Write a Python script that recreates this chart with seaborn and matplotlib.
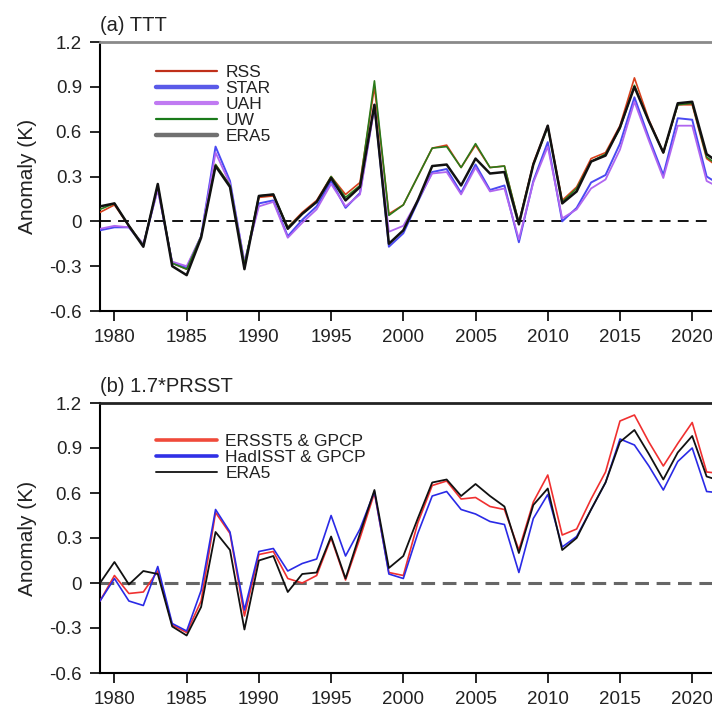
import numpy as np
import pandas as pd
import matplotlib
matplotlib.use("Agg")
import matplotlib.pyplot as plt
import seaborn as sns

years = list(range(1979, 2023))

# Panel (a) TTT
rss_a = [0.06, 0.11, -0.03, -0.16, 0.23, -0.28, -0.32, -0.10, 0.38, 0.24, -0.29, 0.16, 0.17, -0.04, 0.06,
         0.14, 0.30, 0.18, 0.26, 0.90, 0.05, 0.11, 0.30, 0.49, 0.51, 0.36, 0.51, 0.36, 0.37, -0.01,
         0.39, 0.64, 0.14, 0.23, 0.42, 0.46, 0.64, 0.96, 0.68, 0.46, 0.78, 0.78, 0.42, 0.35]
star_a = [-0.06, -0.04, -0.04, -0.16, 0.22, -0.28, -0.31, -0.10, 0.50, 0.27, -0.28, 0.12, 0.14, -0.10, 0.01,
          0.10, 0.27, 0.09, 0.19, 0.78, -0.17, -0.08, 0.13, 0.33, 0.35, 0.19, 0.38, 0.21, 0.24, -0.14,
          0.27, 0.53, 0.00, 0.09, 0.26, 0.31, 0.52, 0.83, 0.56, 0.31, 0.69, 0.68, 0.30, 0.24]
uah_a = [-0.05, -0.03, -0.04, -0.15, 0.21, -0.27, -0.30, -0.10, 0.46, 0.25, -0.27, 0.10, 0.13, -0.11, -0.01,
         0.08, 0.25, 0.10, 0.18, 0.76, -0.07, -0.03, 0.14, 0.32, 0.33, 0.18, 0.36, 0.20, 0.22, -0.12,
         0.26, 0.50, 0.02, 0.08, 0.22, 0.28, 0.48, 0.80, 0.54, 0.29, 0.64, 0.64, 0.27, 0.22]
uw_a = [0.08, 0.12, -0.03, -0.16, 0.24, -0.28, -0.32, -0.10, 0.38, 0.24, -0.29, 0.17, 0.18, -0.04, 0.05,
        0.13, 0.30, 0.16, 0.24, 0.94, 0.04, 0.11, 0.30, 0.49, 0.50, 0.36, 0.52, 0.36, 0.37, -0.01,
        0.38, 0.63, 0.13, 0.22, 0.40, 0.45, 0.62, 0.91, 0.67, 0.46, 0.78, 0.79, 0.43, 0.36]
era5_a = [0.10, 0.12, -0.03, -0.17, 0.25, -0.30, -0.36, -0.11, 0.37, 0.23, -0.32, 0.17, 0.18, -0.05, 0.05,
          0.13, 0.29, 0.14, 0.23, 0.78, -0.15, -0.06, 0.14, 0.37, 0.38, 0.24, 0.42, 0.32, 0.33, -0.02,
          0.38, 0.64, 0.12, 0.20, 0.40, 0.44, 0.63, 0.90, 0.67, 0.46, 0.79, 0.80, 0.45, 0.38]

# Panel (b) 1.7*PRSST
ersst_b = [-0.12, 0.05, -0.07, -0.06, 0.08, -0.28, -0.33, -0.12, 0.47, 0.33, -0.22, 0.19, 0.21, 0.03, 0.00,
           0.05, 0.30, 0.02, 0.30, 0.60, 0.07, 0.05, 0.40, 0.65, 0.68, 0.56, 0.57, 0.51, 0.49, 0.22,
           0.54, 0.72, 0.32, 0.36, 0.56, 0.74, 1.08, 1.12, 0.94, 0.78, 0.93, 1.07, 0.74, 0.73]
hadisst_b = [-0.12, 0.03, -0.12, -0.15, 0.11, -0.27, -0.32, -0.05, 0.49, 0.34, -0.18, 0.21, 0.23, 0.08, 0.13,
             0.16, 0.45, 0.18, 0.36, 0.61, 0.06, 0.03, 0.33, 0.58, 0.61, 0.49, 0.46, 0.41, 0.39, 0.07,
             0.43, 0.59, 0.24, 0.31, 0.49, 0.67, 0.96, 0.92, 0.78, 0.62, 0.81, 0.90, 0.61, 0.60]
era5_b = [0.00, 0.14, -0.01, 0.08, 0.06, -0.29, -0.35, -0.16, 0.34, 0.22, -0.31, 0.15, 0.18, -0.06, 0.06,
          0.07, 0.31, 0.03, 0.33, 0.62, 0.10, 0.18, 0.43, 0.67, 0.69, 0.58, 0.66, 0.58, 0.51, 0.20,
          0.52, 0.63, 0.22, 0.30, 0.49, 0.67, 0.94, 1.02, 0.86, 0.69, 0.87, 0.98, 0.71, 0.68]

titles = ["(a) TTT", "(b) 1.7*PRSST"]
yticks = [-0.6, -0.3, 0, 0.3, 0.6, 0.9, 1.2]
ytick_labels = ["-0.6", "-0.3", "0", "0.3", "0.6", "0.9", "1.2"]
xticks = [1980, 1985, 1990, 1995, 2000, 2005, 2010, 2015, 2020]

sns.set_style("ticks")
plt.rcParams['font.family'] = ['Liberation Sans', 'DejaVu Sans']

fig = plt.figure(figsize=(7.12, 7.10), dpi=100)
W = 0.8926
ax_a = fig.add_axes([100/712, 1 - 311/710, W, 269/710])
ax_b = fig.add_axes([100/712, 1 - 673/710, W, 270/710])

series_a = [("RSS", rss_a, "#d8401c", 1.2, "#c0301a", 1.6),
            ("STAR", star_a, "#4a4af2", 1.4, "#5a5ae8", 3.2),
            ("UAH", uah_a, "#b066f0", 1.3, "#c07af2", 3.0),
            ("UW", uw_a, "#2a7a1a", 1.2, "#1a7a1a", 1.6),
            ("ERA5", era5_a, "#111111", 1.8, "#707070", 3.2)]
series_b = [("ERSST5 & GPCP", ersst_b, "#f03030", 1.2, "#f04a3a", 2.6),
            ("HadISST & GPCP", hadisst_b, "#2a2ae6", 1.2, "#3030e6", 2.6),
            ("ERA5", era5_b, "#111111", 1.3, "#222222", 1.4)]

for ax, series, title, zcol, zlw, ly in [(ax_a, series_a, titles[0], "black", 1.3, 0.915),
                                          (ax_b, series_b, titles[1], "#666666", 2.2, 0.885)]:
    ax.axhline(0, color=zcol, lw=zlw, ls=(0, (6, 4)) if zlw < 2 else (0, (4.5, 2.5)), zorder=1)
    for name, vals, col, lw, _, _ in series:
        sns.lineplot(x=years, y=vals, ax=ax, color=col, lw=lw, label=name, zorder=3)
    ax.set_xlim(1979, 2023)
    ax.set_ylim(-0.6, 1.2)
    ax.set_yticks(yticks)
    ax.set_yticklabels(ytick_labels)
    ax.set_xticks(xticks)
    ax.tick_params(axis='both', direction='out', length=7, width=1.2, labelsize=13.5,
                   colors='black', labelcolor='#222222')
    ax.tick_params(axis='y', pad=6)
    ax.tick_params(axis='x', pad=6)
    ax.set_ylabel("Anomaly (K)", fontsize=15, color='#222222', labelpad=9)
    ax.set_xlabel("")
    ax.set_title(title, loc='left', fontsize=14.5, color='#222222', pad=8, x=0.0)
    for s in ['left', 'bottom']:
        ax.spines[s].set_linewidth(1.5)
        ax.spines[s].set_color('black')
    ax.spines['right'].set_visible(False)
    ax.spines['top'].set_linewidth(2.0)
    leg = ax.legend(loc='upper left', bbox_to_anchor=(0.088, ly), frameon=False,
                    fontsize=12.5, handlelength=3.5, handletextpad=0.5, labelspacing=0.05,
                    borderpad=0, borderaxespad=0)
    for line, (_, _, _, _, lcol, llw) in zip(leg.get_lines(), series):
        line.set_color(lcol)
        line.set_linewidth(llw)
    for t in leg.get_texts():
        t.set_color('#222222')

ax_a.spines['top'].set_color('#8a8a8a')
ax_b.spines['top'].set_color('#222222')

fig.savefig("out.png", dpi=100)
